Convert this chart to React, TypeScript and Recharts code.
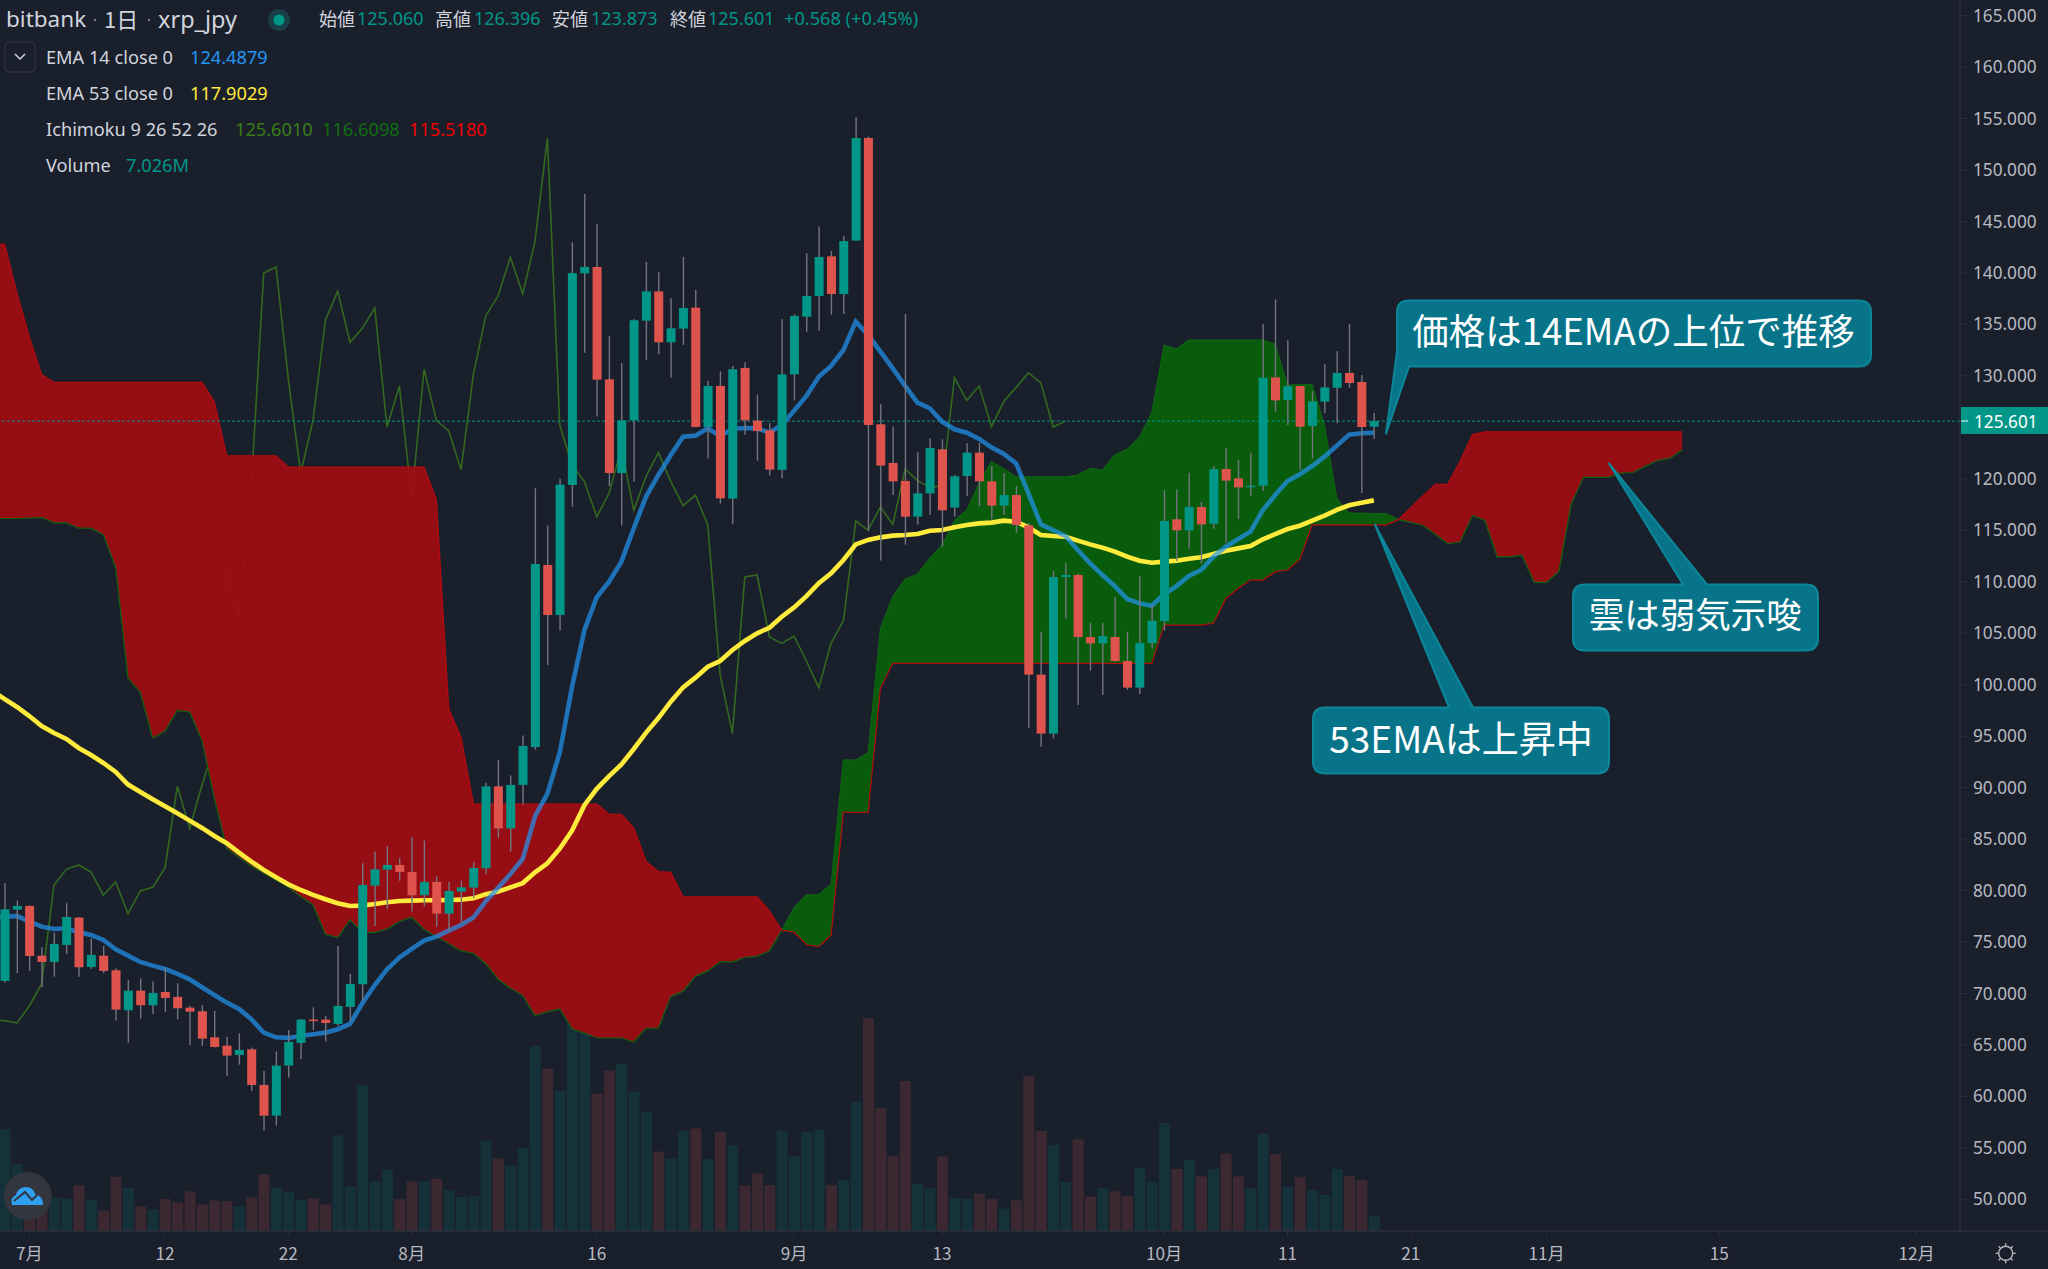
import { Area, Bar, Cell, ComposedChart, Line, ReferenceLine, XAxis, YAxis } from 'recharts';

const opens = [71.21, 78.14, 78.50, 73.67, 73.06, 74.71, 77.37, 72.57, 73.67, 72.25, 68.36, 70.27, 68.85, 70.14, 69.66, 68.62, 68.27, 65.74, 64.93, 64.02, 64.57, 61.11, 58.13, 62.99, 65.19, 67.46, 67.46, 67.04, 68.69, 70.89, 80.47, 82.03, 82.48, 81.80, 79.54, 80.83, 77.75, 79.89, 80.28, 82.16, 90.12, 86.03, 90.26, 93.94, 111.63, 106.77, 119.40, 139.96, 140.58, 129.66, 120.56, 125.68, 135.36, 138.21, 133.26, 134.59, 136.63, 125.03, 129.02, 118.07, 130.77, 125.65, 124.71, 120.86, 130.15, 135.75, 137.76, 141.61, 137.95, 143.14, 153.11, 125.29, 121.54, 119.79, 116.32, 118.59, 122.86, 117.20, 120.27, 122.54, 119.75, 117.39, 118.42, 115.48, 100.97, 95.24, 110.46, 110.65, 104.63, 104.01, 104.63, 102.30, 99.71, 104.04, 106.18, 116.06, 114.99, 117.26, 115.64, 120.95, 120.04, 119.23, 119.33, 129.85, 127.65, 129.01, 125.13, 127.49, 128.84, 130.28, 129.41, 125.06];
const highs = [80.70, 79.02, 78.56, 74.48, 75.91, 78.76, 77.43, 75.36, 74.61, 72.44, 71.31, 71.47, 71.15, 72.51, 70.99, 68.78, 68.88, 68.30, 65.80, 66.13, 64.74, 62.47, 64.38, 66.45, 67.52, 68.65, 67.81, 74.61, 71.89, 82.64, 83.78, 84.33, 83.19, 85.17, 84.85, 81.35, 80.83, 80.96, 82.77, 90.47, 92.70, 91.18, 95.06, 119.08, 115.45, 120.01, 142.97, 147.67, 144.72, 133.87, 131.22, 135.49, 141.06, 140.06, 137.53, 141.55, 138.34, 129.53, 130.44, 130.96, 131.32, 128.17, 125.39, 135.49, 135.98, 141.91, 144.50, 142.13, 143.59, 155.12, 153.24, 127.24, 125.07, 136.01, 122.57, 123.93, 123.83, 120.37, 123.45, 123.51, 121.24, 120.53, 119.30, 115.73, 105.15, 111.07, 111.85, 110.81, 106.02, 106.02, 108.55, 105.15, 110.55, 107.74, 118.91, 118.97, 120.59, 117.74, 121.24, 122.99, 121.82, 122.54, 135.04, 137.43, 133.45, 129.01, 128.53, 131.15, 132.39, 135.03, 130.08, 126.396];
const lows = [71.05, 71.96, 72.18, 70.60, 71.63, 73.84, 71.63, 72.38, 71.96, 67.36, 65.22, 67.55, 68.01, 68.20, 67.49, 64.96, 64.90, 64.74, 61.98, 63.08, 60.53, 56.67, 57.16, 61.82, 63.60, 66.45, 65.32, 66.84, 67.26, 69.30, 76.56, 78.18, 80.96, 77.95, 78.43, 76.49, 76.01, 76.88, 79.24, 81.59, 85.12, 83.78, 88.36, 93.68, 101.91, 105.25, 117.29, 132.25, 126.04, 119.30, 115.45, 119.72, 131.54, 132.09, 129.83, 133.00, 125.03, 121.96, 117.59, 115.58, 124.26, 121.76, 120.31, 120.05, 127.62, 134.29, 134.39, 135.95, 136.01, 143.14, 114.96, 112.05, 118.43, 113.60, 115.55, 116.48, 113.41, 116.32, 118.33, 117.36, 116.06, 116.48, 114.76, 95.79, 93.97, 94.75, 106.44, 98.02, 101.36, 98.99, 102.23, 99.48, 99.09, 103.49, 105.24, 112.01, 113.21, 111.78, 115.15, 113.82, 116.09, 118.33, 118.81, 126.52, 125.22, 120.85, 121.98, 126.36, 125.40, 128.84, 118.61, 123.873];
const closes = [78.18, 78.50, 73.64, 73.06, 74.81, 77.43, 72.54, 73.74, 72.18, 68.43, 70.27, 68.85, 70.05, 69.56, 68.56, 68.23, 65.61, 64.80, 63.96, 64.51, 61.11, 58.13, 62.99, 65.29, 67.46, 67.36, 67.13, 68.78, 70.92, 80.54, 82.06, 82.48, 81.80, 79.54, 80.83, 77.75, 79.96, 80.31, 82.19, 90.12, 86.03, 90.26, 94.04, 111.72, 106.77, 119.43, 139.99, 140.58, 129.63, 120.56, 125.68, 135.40, 138.21, 133.26, 134.62, 136.59, 125.03, 129.02, 118.10, 130.64, 125.68, 124.65, 120.89, 130.15, 135.82, 137.76, 141.55, 137.95, 143.10, 153.11, 125.23, 121.28, 119.75, 116.32, 118.59, 122.99, 116.94, 120.24, 122.54, 119.75, 117.39, 118.42, 115.51, 100.97, 95.24, 110.46, 110.65, 104.63, 104.01, 104.72, 102.30, 99.71, 104.04, 106.21, 115.90, 114.99, 117.26, 115.57, 120.95, 119.82, 119.17, 119.33, 129.82, 127.62, 129.01, 125.06, 127.52, 128.88, 130.28, 129.31, 125.03, 125.601];
const volumes = [46.2, 30.3, 9.1, 10.6, 15.2, 14.8, 20.8, 14.2, 9.2, 24.7, 19.5, 11.2, 9.8, 14.5, 13.0, 18.0, 12.0, 13.9, 13.5, 11.2, 15.3, 25.8, 19.8, 17.6, 14.2, 14.8, 12.1, 43.5, 20.3, 66.2, 22.6, 27.9, 14.5, 22.6, 22.6, 23.8, 18.6, 15.5, 15.9, 40.9, 33.0, 29.8, 37.7, 84.2, 73.8, 63.8, 140.4, 111.0, 62.4, 72.8, 76.1, 63.4, 54.2, 36.1, 32.9, 45.6, 46.6, 32.6, 45.1, 38.9, 20.6, 26.2, 20.9, 45.6, 33.9, 45.0, 45.9, 20.8, 23.2, 58.6, 96.8, 55.9, 34.1, 68.2, 21.4, 19.4, 33.8, 15.0, 14.5, 17.0, 14.5, 10.2, 13.9, 70.5, 45.5, 39.2, 22.3, 41.7, 15.6, 19.5, 18.0, 15.9, 28.8, 22.3, 49.1, 28.2, 32.3, 24.8, 28.3, 35.3, 24.8, 19.4, 44.2, 35.0, 20.0, 24.4, 18.6, 16.4, 28.2, 25.0, 23.2, 7.026];
const ema14 = [77.43, 77.53, 76.98, 76.49, 76.26, 76.33, 75.94, 75.68, 75.20, 74.29, 73.67, 73.06, 72.70, 72.38, 71.89, 71.37, 70.60, 69.85, 69.11, 68.49, 67.49, 66.19, 65.74, 65.68, 65.87, 66.03, 66.19, 66.52, 67.04, 69.04, 70.82, 72.35, 73.48, 74.32, 75.13, 75.52, 76.10, 76.65, 77.37, 78.95, 80.26, 81.60, 83.08, 87.23, 89.42, 93.40, 99.80, 105.31, 108.49, 110.00, 111.95, 115.19, 118.27, 120.37, 122.31, 124.09, 124.19, 124.90, 124.16, 124.84, 124.94, 124.90, 124.48, 125.23, 126.62, 128.05, 129.92, 130.96, 132.51, 135.27, 133.97, 132.35, 130.73, 129.02, 127.40, 126.85, 125.55, 124.81, 124.48, 123.87, 123.06, 122.41, 121.50, 118.58, 115.57, 115.02, 114.44, 113.08, 111.78, 110.65, 109.58, 108.32, 107.90, 107.67, 108.77, 109.58, 110.55, 111.14, 112.43, 113.40, 114.15, 114.86, 116.97, 118.42, 119.78, 120.43, 121.24, 122.15, 123.22, 124.29, 124.43, 124.4879];
const ema53 = [98.60, 97.83, 96.95, 95.98, 95.30, 94.72, 93.85, 93.17, 92.39, 91.52, 90.29, 89.57, 88.86, 88.18, 87.50, 86.79, 86.08, 85.30, 84.59, 83.68, 82.81, 82.00, 81.28, 80.60, 80.05, 79.57, 79.15, 78.76, 78.50, 78.53, 78.69, 78.86, 78.98, 79.02, 79.05, 79.05, 79.08, 79.11, 79.24, 79.63, 79.89, 80.31, 80.72, 81.77, 82.65, 84.06, 85.83, 88.29, 89.88, 91.11, 92.24, 93.75, 95.34, 96.75, 98.34, 99.74, 100.68, 101.74, 102.30, 103.37, 104.24, 104.99, 105.53, 106.60, 107.50, 108.60, 109.85, 110.82, 112.11, 113.63, 114.06, 114.31, 114.48, 114.54, 114.64, 114.96, 115.03, 115.29, 115.51, 115.67, 115.74, 115.93, 115.83, 115.28, 114.54, 114.44, 114.37, 113.99, 113.63, 113.31, 112.92, 112.43, 112.04, 111.85, 111.95, 112.04, 112.24, 112.37, 112.69, 113.01, 113.24, 113.47, 114.12, 114.63, 115.12, 115.44, 115.93, 116.42, 116.97, 117.43, 117.67, 117.9029];
const chikou = [67.36, 67.13, 68.78, 70.92, 80.54, 82.06, 82.48, 81.80, 79.54, 80.83, 77.75, 79.96, 80.31, 82.19, 90.12, 86.03, 90.26, 94.04, 111.72, 106.77, 119.43, 139.99, 140.58, 129.63, 120.56, 125.68, 135.40, 138.21, 133.26, 134.62, 136.59, 125.03, 129.02, 118.10, 130.64, 125.68, 124.65, 120.89, 130.15, 135.82, 137.76, 141.55, 137.95, 143.10, 153.11, 125.23, 121.28, 119.75, 116.32, 118.59, 122.99, 116.94, 120.24, 122.54, 119.75, 117.39, 118.42, 115.51, 100.97, 95.24, 110.46, 110.65, 104.63, 104.01, 104.72, 102.30, 99.71, 104.04, 106.21, 115.90, 114.99, 117.26, 115.57, 120.95, 119.82, 119.17, 119.33, 129.82, 127.62, 129.01, 125.06, 127.52, 128.88, 130.28, 129.31, 125.03, 125.601];
const senkouA = [116.14, 116.14, 116.17, 116.24, 115.72, 115.72, 115.20, 115.20, 114.57, 111.38, 100.63, 99.24, 94.80, 95.49, 97.50, 97.33, 94.55, 88.96, 84.10, 83.23, 82.39, 81.67, 81.02, 80.31, 79.41, 78.60, 75.75, 75.42, 77.14, 75.94, 75.94, 76.26, 76.98, 77.40, 76.23, 75.54, 74.83, 74.13, 73.91, 72.89, 71.38, 70.50, 69.79, 67.85, 68.21, 68.49, 66.55, 66.16, 65.67, 65.67, 65.67, 65.28, 66.62, 66.62, 69.69, 70.22, 71.66, 72.19, 73.07, 73.07, 73.49, 73.60, 74.13, 76.14, 78.35, 79.59, 79.59, 80.61, 92.70, 92.68, 93.39, 105.47, 108.55, 110.23, 110.72, 112.27, 113.57, 115.93, 116.97, 119.56, 121.66, 120.95, 120.20, 120.20, 120.20, 120.20, 120.20, 120.37, 121.01, 120.85, 122.31, 122.86, 124.03, 126.42, 133.00, 132.61, 133.48, 133.48, 133.48, 133.48, 133.48, 133.48, 133.48, 133.06, 129.11, 129.14, 129.14, 125.20, 118.04, 116.67, 116.67, 116.61, 116.61, 116.03, 115.76, 115.46, 114.59, 113.69, 113.86, 116.43, 115.96, 112.42, 112.42, 112.58, 109.94, 109.94, 111.01, 117.53, 120.14, 120.14, 120.14, 120.54, 120.61, 121.21, 121.78, 121.98, 122.82];
const senkouB = [142.78, 138.00, 133.76, 130.12, 129.36, 129.36, 129.36, 129.36, 129.36, 129.36, 129.36, 129.36, 129.36, 129.36, 129.36, 129.36, 129.36, 127.45, 122.24, 122.24, 122.24, 122.24, 122.24, 121.13, 121.13, 121.13, 121.13, 121.13, 121.13, 121.13, 121.13, 121.13, 121.13, 121.13, 121.13, 117.97, 97.63, 94.88, 88.40, 88.40, 88.40, 88.40, 88.40, 88.40, 88.40, 88.40, 88.40, 88.40, 88.40, 87.41, 87.41, 86.07, 82.83, 81.84, 81.77, 79.38, 79.38, 79.38, 79.38, 79.38, 79.38, 79.38, 78.00, 76.14, 75.96, 74.73, 74.55, 75.68, 87.59, 87.60, 87.60, 99.64, 102.07, 102.07, 102.07, 102.07, 102.07, 102.07, 102.07, 102.07, 102.07, 102.07, 102.07, 102.07, 102.07, 102.07, 102.07, 102.07, 102.07, 102.07, 102.07, 102.07, 102.07, 102.07, 105.79, 105.79, 105.79, 105.79, 105.96, 108.38, 109.36, 110.16, 110.16, 110.98, 111.14, 112.17, 115.52, 115.52, 115.52, 115.52, 115.52, 115.52, 115.52, 116.03, 117.20, 118.37, 119.47, 119.47, 121.72, 124.29, 124.56, 124.56, 124.56, 124.56, 124.56, 124.56, 124.56, 124.56, 124.56, 124.56, 124.56, 124.56, 124.56, 124.56, 124.56, 124.56, 124.56];

// the day just off the left edge, so lines and cloud reach the border
const offEdgeEma14 = 77.4;
const offEdgeEma53 = 99.4;
const offEdgeChikou = 67.4;
const offEdgeSenkouA = 116.14;
const offEdgeSenkouB = 142.78;

const priceTicks = [50, 55, 60, 65, 70, 75, 80, 85, 90, 95, 100, 105, 110, 115, 120, 130, 135, 140, 145, 150, 155, 160, 165];
const dayTicks = [2, 13, 23, 33, 48, 64, 76, 94, 104, 114, 125, 139, 155];
const dayLabels = ['7月', '12', '22', '8月', '16', '9月', '13', '10月', '11', '21', '11月', '15', '12月'];

const BG = '#1a1f2c';
const UP = '#009688';
const DOWN = '#df534d';
const AXIS = '#2c303c';
const TICK = '#b7bac1';
const LABEL = '#d1d4dc';
const FONT = '"Noto Sans", sans-serif';
const CJK = '"Noto Sans CJK JP", sans-serif';

const rows: any[] = senkouA.map((a, i) => {
  const b = senkouB[i];
  const hasCandle = i < closes.length;
  return {
    i,
    open: opens[i],
    close: closes[i],
    range: hasCandle ? [lows[i], highs[i]] : null,
    high: highs[i],
    low: lows[i],
    volume: volumes[i],
    ema14: ema14[i],
    ema53: ema53[i],
    chikou: chikou[i],
    senkouA: a,
    senkouB: b,
    redCloud: b >= a ? [a, b] : null,
    greenCloud: a >= b ? [b, a] : null,
  };
});

rows.unshift({
  i: -1,
  range: null,
  ema14: offEdgeEma14,
  ema53: offEdgeEma53,
  chikou: offEdgeChikou,
  senkouA: offEdgeSenkouA,
  senkouB: offEdgeSenkouB,
  redCloud: [offEdgeSenkouA, offEdgeSenkouB],
  greenCloud: null,
});

function Candle(props: any) {
  const { x, y, width, height, payload } = props;
  if (!payload || payload.close === undefined) return null;
  const { open, close, high, low } = payload;
  const perUnit = height / (high - low);
  const top = y + (high - Math.max(open, close)) * perUnit;
  const bodyH = Math.max(Math.abs(close - open) * perUnit, 1.5);
  const cx = x + width / 2;
  return (
    <g>
      <line x1={cx} x2={cx} y1={y} y2={y + height} stroke="#73767f" strokeWidth={1.4} />
      <rect x={x} y={top} width={width} height={bodyH} fill={close >= open ? UP : DOWN} />
    </g>
  );
}

function Callout({ d, text, cx, cy, size }: { d: string; text: string; cx: number; cy: number; size: number }) {
  return (
    <g>
      <path d={d} fill="#07748a" stroke="#0b8799" strokeWidth={2} strokeLinejoin="round" />
      <text x={cx} y={cy} textAnchor="middle" dominantBaseline="central" fontFamily={CJK} fontSize={size} fill="#ffffff">
        {text}
      </text>
    </g>
  );
}

function Legend() {
  const row = { position: 'absolute', fontFamily: FONT, whiteSpace: 'nowrap', lineHeight: 1 } as const;
  const ohlc = (x: number, label: string, vx: number, value: string) => (
    <>
      <span style={{ ...row, left: x, top: 9, fontSize: 18, color: LABEL, fontFamily: CJK }}>{label}</span>
      <span style={{ ...row, left: vx, top: 9, fontSize: 18, color: UP }}>{value}</span>
    </>
  );
  return (
    <div style={{ position: 'absolute', left: 0, top: 0, width: 1000, height: 190 }}>
      <span style={{ ...row, left: 6, top: 8, fontSize: 22.5, color: LABEL }}>bitbank</span>
      <span style={{ ...row, left: 104, top: 7, fontSize: 22, color: LABEL, fontFamily: CJK }}>1日</span>
      <span style={{ ...row, left: 158, top: 8, fontSize: 23.5, color: LABEL }}>xrp_jpy</span>
      {ohlc(319, '始値', 357, '125.060')}
      {ohlc(435, '高値', 474, '126.396')}
      {ohlc(552, '安値', 591, '123.873')}
      {ohlc(670, '終値', 708, '125.601')}
      <span style={{ ...row, left: 784, top: 9, fontSize: 18.2, color: UP }}>+0.568 (+0.45%)</span>

      <span style={{ ...row, left: 46, top: 48, fontSize: 18.2, color: LABEL }}>EMA 14 close 0</span>
      <span style={{ ...row, left: 190, top: 48, fontSize: 18.2, color: '#2196f3' }}>124.4879</span>
      <span style={{ ...row, left: 46, top: 84, fontSize: 18.2, color: LABEL }}>EMA 53 close 0</span>
      <span style={{ ...row, left: 190, top: 84, fontSize: 18.2, color: '#ffeb3b' }}>117.9029</span>
      <span style={{ ...row, left: 46, top: 120, fontSize: 18.2, color: LABEL }}>Ichimoku 9 26 52 26</span>
      <span style={{ ...row, left: 235, top: 120, fontSize: 18.2, color: '#3a7d16' }}>125.6010</span>
      <span style={{ ...row, left: 322, top: 120, fontSize: 18.2, color: '#0f6e10' }}>116.6098</span>
      <span style={{ ...row, left: 409, top: 120, fontSize: 18.2, color: '#f00000' }}>115.5180</span>
      <span style={{ ...row, left: 46, top: 156, fontSize: 18.2, color: LABEL }}>Volume</span>
      <span style={{ ...row, left: 126, top: 156, fontSize: 18.2, color: UP }}>7.026M</span>
    </div>
  );
}

function Overlay() {
  return (
    <svg width={2048} height={1269} style={{ position: 'absolute', left: 0, top: 0, pointerEvents: 'none' }}>
      {/* header status dot and collapse button */}
      <circle cx={279} cy={20} r={11} fill="#1a3f47" />
      <circle cx={279} cy={20} r={5.5} fill={UP} />
      <circle cx={95} cy={20} r={1.2} fill="#7b7e87" />
      <circle cx={149} cy={20} r={1.2} fill="#7b7e87" />
      <rect x={5} y={42} width={30} height={30} rx={4} fill="none" stroke="#343844" />
      <path d="M15 54 L20 59 L25 54" fill="none" stroke={LABEL} strokeWidth={1.5} />

      {/* axis line runs under the price scale too */}
      <line x1={1960} x2={2048} y1={1231} y2={1231} stroke={AXIS} strokeWidth={1.5} />

      {/* last price tag */}
      <rect x={1961} y={407} width={87} height={27} fill={UP} />
      <line x1={1961} x2={1968} y1={421} y2={421} stroke="#ffffff" strokeWidth={1} />
      <text x={1974} y={421} dominantBaseline="central" fontFamily={FONT} fontSize={17.2} fill="#ffffff">125.601</text>

      <Callout
        d="M1409 300.5 H1859 Q1871 300.5 1871 312.5 V354.5 Q1871 366.5 1859 366.5 H1409 L1386 433.6 L1397 352 V312.5 Q1397 300.5 1409 300.5 Z"
        text="価格は14EMAの上位で推移"
        cx={1633.5}
        cy={329}
        size={36.5}
      />
      <Callout
        d="M1585 584.5 H1683 L1609 463.5 L1707 584.5 H1806 Q1818 584.5 1818 596.5 V638.5 Q1818 650.5 1806 650.5 H1585 Q1573 650.5 1573 638.5 V596.5 Q1573 584.5 1585 584.5 Z"
        text="雲は弱気示唆"
        cx={1695.3}
        cy={612.5}
        size={35.5}
      />
      <Callout
        d="M1325 707.5 H1449 L1375 524.8 L1473 707.5 H1597 Q1609 707.5 1609 719.5 V761.5 Q1609 773.5 1597 773.5 H1325 Q1313 773.5 1313 761.5 V719.5 Q1313 707.5 1325 707.5 Z"
        text="53EMAは上昇中"
        cx={1461}
        cy={737}
        size={37}
      />

      {/* logo bottom left */}
      <circle cx={27.7} cy={1196} r={24} fill="#33363f" />
      <path d="M12 1205 Q10 1197 16 1195 Q18 1187 26 1187 Q33 1187 35 1194 Q43 1196 43 1205 Z" fill="#2f9ff0" />
      <path d="M14 1201 L25 1192 L32 1200 L40 1192" fill="none" stroke="#33363f" strokeWidth={2} />

      {/* settings gear bottom right */}
      <g stroke={TICK} strokeWidth={1.4} fill="none">
        <circle cx={2005.7} cy={1253.3} r={7} />
        {[0, 45, 90, 135, 180, 225, 270, 315].map((a) => (
          <line key={a} x1={2005.7} x2={2005.7} y1={1243.3} y2={1245.8} transform={`rotate(${a} 2005.7 1253.3)`} />
        ))}
      </g>
    </svg>
  );
}

export default function App() {
  return (
    <div style={{ position: 'relative', width: 2048, height: 1269, background: BG, overflow: 'hidden' }}>
      <style>{'body{margin:0;background:' + BG + '}'}</style>
      <ComposedChart width={2048} height={1269} data={rows} margin={{ top: 0, right: 0, bottom: 0, left: 0 }}>
        <XAxis
          xAxisId="main"
          dataKey="i"
          type="number"
          domain={[-0.378, 158.52]}
          allowDataOverflow
          ticks={dayTicks}
          interval={0}
          height={38}
          tickFormatter={(v: number) => dayLabels[dayTicks.indexOf(v)]}
          tick={{ fill: TICK, fontSize: 17.2, fontFamily: CJK }}
          tickSize={5}
          tickMargin={12}
          axisLine={{ stroke: AXIS, strokeWidth: 1.5 }}
          tickLine={{ stroke: AXIS }}
        />
        <XAxis xAxisId="vol" dataKey="i" type="number" domain={[-0.378, 158.52]} allowDataOverflow hide />
        <YAxis
          yAxisId="price"
          orientation="right"
          width={88}
          domain={[46.92, 166.516]}
          allowDataOverflow
          ticks={priceTicks}
          interval={0}
          tickFormatter={(v: number) => v.toFixed(3)}
          tick={{ fill: TICK, fontSize: 17.2, fontFamily: FONT }}
          tickSize={7}
          tickMargin={6}
          axisLine={{ stroke: AXIS, strokeWidth: 1.5 }}
          tickLine={{ stroke: AXIS }}
        />
        <YAxis yAxisId="volume" hide domain={[0, 559.5]} allowDataOverflow />

        <Bar xAxisId="vol" yAxisId="volume" dataKey="volume" barSize={11} isAnimationActive={false} zIndex={10}>
          {rows.map((r) => (
            <Cell key={r.i} fill={r.close >= r.open ? '#15323b' : '#3c2831'} />
          ))}
        </Bar>
        <Line xAxisId="main" yAxisId="price" dataKey="chikou" stroke="#33691e" strokeWidth={1.6} dot={false} isAnimationActive={false} zIndex={20} />
        <Area xAxisId="main" yAxisId="price" dataKey="redCloud" fill="#a00c11" fillOpacity={0.93} stroke="none" isAnimationActive={false} zIndex={30} />
        <Area xAxisId="main" yAxisId="price" dataKey="greenCloud" fill="#0a5e0c" fillOpacity={0.97} stroke="none" isAnimationActive={false} zIndex={30} />
        <Line xAxisId="main" yAxisId="price" dataKey="senkouA" stroke="#0f6312" strokeWidth={1.2} dot={false} isAnimationActive={false} zIndex={31} />
        <Line xAxisId="main" yAxisId="price" dataKey="senkouB" stroke="#b50a0f" strokeWidth={1.2} dot={false} isAnimationActive={false} zIndex={31} />
        <ReferenceLine xAxisId="main" yAxisId="price" y={125.601} stroke={UP} strokeDasharray="3 2" strokeWidth={1} zIndex={32} />
        <Line xAxisId="main" yAxisId="price" dataKey="ema53" stroke="#ffeb3b" strokeWidth={4.6} dot={false} isAnimationActive={false} zIndex={40} />
        <Line xAxisId="main" yAxisId="price" dataKey="ema14" stroke="#2196f3" strokeOpacity={0.7} strokeWidth={4.6} dot={false} isAnimationActive={false} zIndex={41} />
        <Bar xAxisId="main" yAxisId="price" dataKey="range" barSize={9} shape={Candle} isAnimationActive={false} zIndex={50} />
      </ComposedChart>
      <Legend />
      <Overlay />
    </div>
  );
}
